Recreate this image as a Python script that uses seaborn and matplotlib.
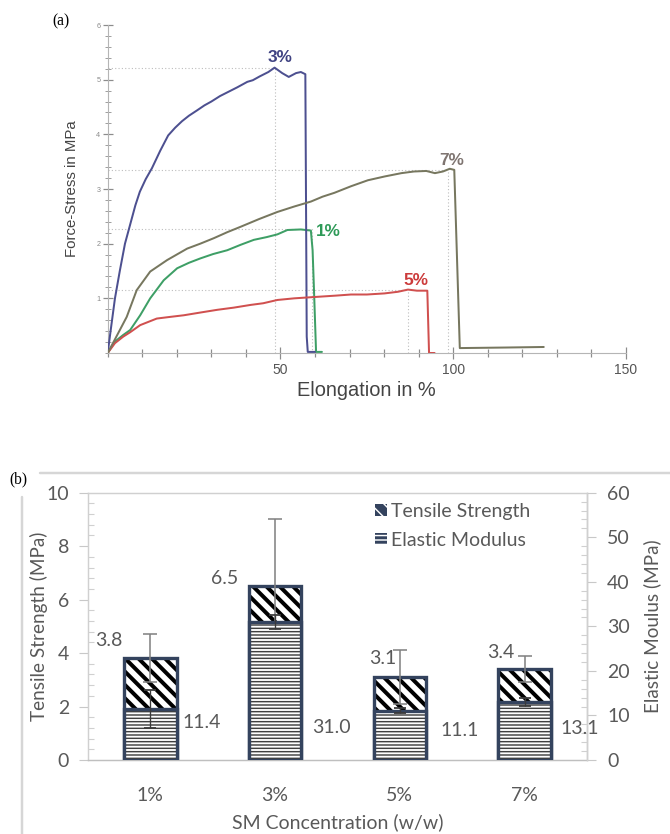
import numpy as np
import pandas as pd
import matplotlib
matplotlib.use("Agg")
import matplotlib.pyplot as plt
import seaborn as sns
from matplotlib.lines import Line2D
from matplotlib.patches import Patch, Rectangle
from matplotlib.ticker import MultipleLocator, FixedLocator

# ---------------- data : panel (a) stress-strain curves ----------------
series_names = ["1%", "3%", "5%", "7%"]
elong_1 = [0, 2.1, 4.5, 6.5, 9.4, 12.3, 16.2, 20.1, 23.5, 26.8, 30.5, 34.6, 38.5, 42.3, 46.0, 49.1, 52.0, 55.9, 58.8, 59.3, 59.8, 60.3, 62.0]
stress_1 = [0, 0.21, 0.33, 0.42, 0.69, 1.0, 1.33, 1.55, 1.65, 1.73, 1.81, 1.88, 1.98, 2.07, 2.12, 2.17, 2.25, 2.26, 2.24, 1.88, 0.97, 0.02, 0.02]
elong_3 = [0, 1.0, 2.1, 3.5, 5.0, 6.5, 8.0, 9.3, 11.0, 12.8, 15.2, 17.5, 19.5, 21.5, 23.5, 25.9, 28.0, 30.0, 32.5, 35.0, 37.5, 40.4, 42.0, 44.0, 46.5, 48.3, 50.5, 52.4, 54.5, 55.9, 57.2, 57.6, 57.9, 60.0]
stress_3 = [0, 0.48, 1.0, 1.5, 2.0, 2.35, 2.7, 2.95, 3.18, 3.38, 3.7, 3.98, 4.12, 4.24, 4.34, 4.44, 4.53, 4.6, 4.7, 4.78, 4.86, 4.96, 4.99, 5.06, 5.14, 5.22, 5.12, 5.05, 5.12, 5.14, 5.1, 0.3, 0.02, 0.02]
elong_5 = [0, 2.1, 4.5, 6.5, 9.4, 14.2, 18.0, 22.0, 26.8, 31.7, 36.5, 41.4, 45.0, 49.1, 54.0, 58.8, 66.1, 70.4, 75.0, 80.1, 84.0, 86.9, 89.5, 92.5, 93.0, 94.6]
stress_5 = [0, 0.18, 0.3, 0.38, 0.51, 0.63, 0.66, 0.69, 0.74, 0.79, 0.83, 0.88, 0.91, 0.97, 1.0, 1.02, 1.05, 1.07, 1.07, 1.09, 1.12, 1.16, 1.14, 1.14, 0.0, 0.0]
elong_7 = [0, 2.1, 5.5, 8.4, 12.3, 17.2, 23.0, 26.8, 30.7, 34.6, 38.5, 43.8, 49.1, 54.0, 58.8, 62.2, 65.6, 70.4, 75.3, 80.2, 85.0, 88.6, 92.2, 94.7, 97.0, 99.0, 100.3, 101.9, 115.0, 126.2]
stress_7 = [0, 0.25, 0.66, 1.15, 1.49, 1.70, 1.91, 2.0, 2.10, 2.21, 2.31, 2.45, 2.58, 2.68, 2.77, 2.86, 2.93, 3.05, 3.16, 3.23, 3.29, 3.32, 3.33, 3.29, 3.32, 3.37, 3.35, 0.09, 0.10, 0.11]
peak_elong = [59.0, 48.3, 86.9, 98.5]
peak_stress = [2.26, 5.22, 1.16, 3.35]

# ---------------- data : panel (b) bars ----------------
conc_labels = ["1%", "3%", "5%", "7%"]
tensile = [3.8, 6.5, 3.1, 3.4]
tensile_err = [0.9, 2.5, 1.0, 0.5]
modulus = [11.4, 31.0, 11.1, 13.1]
modulus_err = [4.3, 1.6, 0.6, 0.9]

# ---------------- style ----------------
sns.set_style("white")
plt.rcParams["font.family"] = ["Liberation Sans", "DejaVu Sans"]
DPI = 80
W, H = 670, 834
fig = plt.figure(figsize=(W / DPI, H / DPI), dpi=DPI)

def fx(px):
    return px / W

def fy(py):
    return 1 - py / H

line_colors = {"1%": "#3e9f66", "3%": "#4d5090", "5%": "#d0504f", "7%": "#77775f"}
label_colors = {"1%": "#2e9a58", "3%": "#3f4282", "5%": "#cc3b3b", "7%": "#7f7571"}

# ================= panel (a) =================
axa = fig.add_axes([fx(107.7), fy(353), fx(626) - fx(107.7), fy(25) - fy(353)])
frames = []
for name, xs, ys in [("1%", elong_1, stress_1), ("3%", elong_3, stress_3),
                     ("5%", elong_5, stress_5), ("7%", elong_7, stress_7)]:
    frames.append(pd.DataFrame({"elong": xs, "stress": ys, "series": name}))
df_a = pd.concat(frames, ignore_index=True)

for px_, py_ in zip(peak_elong, peak_stress):
    axa.plot([0, px_], [py_, py_], color="#bdbdbd", lw=1.0, ls=(0, (1, 2)), zorder=1)
    axa.plot([px_, px_], [0, py_], color="#bdbdbd", lw=1.0, ls=(0, (1, 2)), zorder=1)

sns.lineplot(data=df_a, x="elong", y="stress", hue="series", palette=line_colors,
             sort=False, estimator=None, legend=False, ax=axa, linewidth=1.8, zorder=3)

label_pos = {"1%": (60.3, 2.23, "left", "center"), "3%": (50.0, 5.27, "center", "bottom"),
             "5%": (89.1, 1.32, "center", "center"), "7%": (99.5, 3.53, "center", "center")}
for name in series_names:
    lx, ly, ha, va = label_pos[name]
    axa.text(lx, ly, name, color=label_colors[name], fontsize=15.5, fontweight="bold",
             ha=ha, va=va)

axa.set_xlim(0, 150)
axa.set_ylim(0, 6)
axa.xaxis.set_major_locator(FixedLocator([50, 100, 150]))
axa.xaxis.set_minor_locator(MultipleLocator(10))
axa.yaxis.set_major_locator(FixedLocator([1, 2, 3, 4, 5, 6]))
axa.yaxis.set_minor_locator(MultipleLocator(0.2))
for s in ["top", "right"]:
    axa.spines[s].set_visible(False)
for s in ["left", "bottom"]:
    axa.spines[s].set_color("#b5b5b5")
    axa.spines[s].set_linewidth(1.0)
axa.tick_params(axis="x", which="major", direction="inout", length=10, width=1.1, color="#8c8c8c",
                labelsize=12.5, labelcolor="#555555", pad=4, bottom=True)
axa.tick_params(axis="x", which="minor", direction="inout", length=7, width=1.1, color="#8c8c8c",
                bottom=True)
axa.tick_params(axis="y", which="major", direction="inout", length=9, width=1.1, color="#8c8c8c",
                labelsize=6.5, labelcolor="#8a8a8a", pad=2, left=True)
axa.tick_params(axis="y", which="minor", direction="inout", length=5, width=0.9, color="#a0a0a0",
                left=True)
axa.set_xlabel("Elongation in %", fontsize=18, color="#444444", labelpad=4)
axa.set_ylabel("Force-Stress in MPa", fontsize=13.5, color="#444444", labelpad=16)
axa.grid(False)

fig.text(fx(61), fy(21), "(a)", fontsize=14, family=["Liberation Serif", "DejaVu Serif"],
         ha="center", va="center", color="black")

# ================= panel (b) =================
navy = "#34435e"
grey_txt = "#595959"
bfont = ["Lato", "DejaVu Sans"]
FS = 17.5

axb = fig.add_axes([fx(88), fy(760), fx(587) - fx(88), fy(492.7) - fy(760)])
axb2 = axb.twinx()

def hatch_bars(ax, values, hatch, hatch_color, hatch_lw):
    plt.rcParams["hatch.linewidth"] = hatch_lw
    before = len(ax.patches)
    sns.barplot(x=conc_labels, y=values, ax=ax, width=0.42, color="white", saturation=1,
                edgecolor=hatch_color, linewidth=0, hatch=hatch, zorder=2)
    bars = ax.patches[before:]
    for p in bars:
        if hasattr(p, "set_hatch_linewidth"):
            p.set_hatch_linewidth(hatch_lw)
    for p in list(bars):
        ax.add_patch(Rectangle(p.get_xy(), p.get_width(), p.get_height(), fill=False,
                               edgecolor=navy, linewidth=3.0, zorder=2.5))
    return bars

hatch_bars(axb, tensile, "\\\\", "black", 3.6)
axb.errorbar(range(len(conc_labels)), tensile, yerr=tensile_err, fmt="none",
             ecolor="#808080", elinewidth=1.4, capsize=6, capthick=1.4, zorder=3)
hatch_bars(axb2, modulus, "----", "#404040", 1.3)
axb2.errorbar(range(len(conc_labels)), modulus, yerr=modulus_err, fmt="none",
              ecolor="#3a3a3a", elinewidth=1.2, capsize=5, capthick=1.6, zorder=3)

axb.set_xlim(-0.5, 3.5)
axb2.set_xlim(-0.5, 3.5)
axb.set_ylim(0, 10)
axb2.set_ylim(0, 60)
axb.yaxis.set_major_locator(MultipleLocator(2))
axb.yaxis.set_minor_locator(MultipleLocator(0.4))
axb2.yaxis.set_major_locator(MultipleLocator(10))
axb2.yaxis.set_minor_locator(MultipleLocator(2))

for s in axb.spines.values():
    s.set_color("#d0d0d0")
    s.set_linewidth(1.3)
axb.spines["bottom"].set_color("#bfbfbf")
for s in ["top", "left", "bottom"]:
    axb2.spines[s].set_visible(False)
axb2.spines["right"].set_color("#d0d0d0")
axb2.spines["right"].set_linewidth(1.3)

axb.tick_params(axis="y", which="major", direction="out", length=8, width=1, color="#c8c8c8",
                labelsize=FS, labelcolor=grey_txt, pad=9, left=True)
axb.tick_params(axis="y", which="minor", direction="in", length=5, width=1, color="#d0d0d0", left=True)
axb2.tick_params(axis="y", which="major", direction="out", length=8, width=1, color="#c8c8c8",
                 labelsize=FS, labelcolor=grey_txt, pad=10, right=True)
axb2.tick_params(axis="y", which="minor", direction="in", length=5, width=1, color="#d0d0d0", right=True)
axb.tick_params(axis="x", length=0, labelsize=FS, labelcolor=grey_txt, pad=24)
axb2.tick_params(axis="x", length=0, labelbottom=False)
for lab in axb.get_xticklabels() + axb.get_yticklabels() + axb2.get_yticklabels():
    lab.set_family(bfont)

axb.set_xlabel("SM Concentration (w/w)", fontsize=FS, color=grey_txt, family=bfont, labelpad=9)
axb.set_ylabel("Tensile Strength (MPa)", fontsize=17, color=grey_txt, family=bfont, labelpad=-1)
axb2.set_ylabel("Elastic Moulus (MPa)", fontsize=17, color=grey_txt, family=bfont, labelpad=12)
axb.grid(False)
axb2.grid(False)

ts_offsets = [(-37.8, 16.2), (-45.9, 7.2), (-15.3, 17.1), (-21.6, 15.3)]
em_offsets = [(46, 34), (51, 29), (54, 27), (50, 28)]
for i, (v, off) in enumerate(zip(tensile, ts_offsets)):
    axb.annotate(f"{v:.1f}", (i, v), xytext=off, textcoords="offset points",
                 ha="center", va="center", fontsize=FS, color=grey_txt, family=bfont, zorder=5)
for i, (v, off) in enumerate(zip(modulus, em_offsets)):
    axb2.annotate(f"{v:.1f}", (i, 0), xytext=off, textcoords="offset points",
                  ha="center", va="center", fontsize=FS, color=grey_txt, family=bfont, zorder=5)

handles = [Patch(facecolor=navy, edgecolor="white", hatch="\\\\", linewidth=0),
           Patch(facecolor=navy, edgecolor="white", hatch="---", linewidth=0)]
leg = axb.legend(handles, ["Tensile Strength", "Elastic Modulus"], loc="upper left",
                 bbox_to_anchor=(fx(375), fy(503)), bbox_transform=fig.transFigure,
                 frameon=False, handlelength=0.6, handleheight=0.6, handletextpad=0.2,
                 labelspacing=0.6, borderpad=0, borderaxespad=0,
                 prop={"family": bfont, "size": FS})
for t in leg.get_texts():
    t.set_color(grey_txt)

fig.add_artist(Line2D([fx(40), fx(670)], [fy(473), fy(473)], color="#d6d6d6", lw=2.2))
fig.add_artist(Line2D([fx(22), fx(22)], [fy(497), fy(834)], color="#d6d6d6", lw=2.2))
fig.text(fx(18), fy(479), "(b)", fontsize=14, family=["Liberation Serif", "DejaVu Serif"],
         ha="center", va="center", color="black")

fig.savefig("out.png", dpi=DPI, facecolor="white")
